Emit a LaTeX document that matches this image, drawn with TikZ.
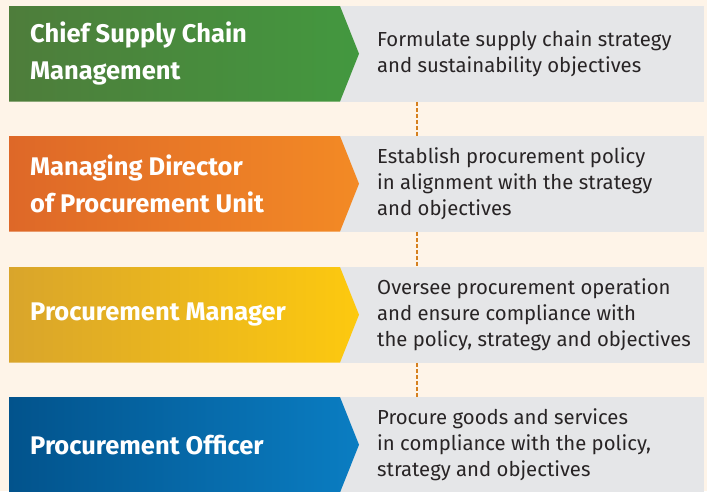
\documentclass[tikz,border=0pt]{standalone}
\usepackage{fontspec}
\setmainfont{Fira Sans}
\usepackage{tikz}
\usetikzlibrary{positioning,calc}
\definecolor{bgcream}{RGB}{254,244,232}
\definecolor{panelgray}{RGB}{229,230,232}
\definecolor{textdark}{RGB}{40,36,37}
\definecolor{linkorange}{RGB}{214,128,30}
\definecolor{greenL}{RGB}{78,125,59}
\definecolor{greenR}{RGB}{67,152,63}
\definecolor{orangeL}{RGB}{222,104,40}
\definecolor{orangeR}{RGB}{243,138,37}
\definecolor{yellowL}{RGB}{217,165,43}
\definecolor{yellowR}{RGB}{253,201,15}
\definecolor{blueL}{RGB}{2,83,140}
\definecolor{blueR}{RGB}{10,125,194}

\begin{document}
\begin{tikzpicture}[x=1pt, y=-1pt,
    panel/.style={rectangle, fill=panelgray, anchor=north west, inner sep=0pt,
                  minimum width=364pt, minimum height=95.5pt},
    role/.style={anchor=west, inner sep=0pt, align=left, text=white,
                 font=\fontsize{25.5}{37}\selectfont\bfseries},
    task/.style={anchor=west, inner sep=0pt, align=left, text=textdark,
                 font=\fontsize{20.3}{26}\selectfont},
    link/.style={draw=linkorange, line width=1.1pt, dash pattern=on 4pt off 2pt}
]

% Background
\fill[bgcream] (0,0) rectangle (707,491);
\useasboundingbox (0,0) rectangle (707,491);

% Grey description panels
\node[panel] (panel1) at (340,6) {};
\node[panel] (panel2) at (340,136) {};
\node[panel] (panel3) at (340,267) {};
\node[panel] (panel4) at (340,397) {};

% Dashed links between panels
\draw[link] ($(panel1.south west)+(77,0)$) -- ($(panel2.north west)+(77,0)$);
\draw[link] ($(panel2.south west)+(77,0)$) -- ($(panel3.north west)+(77,0)$);
\draw[link] ($(panel3.south west)+(77,0)$) -- ($(panel4.north west)+(77,0)$);

% Coloured role arrows
\shade[left color=greenL, right color=greenR]
    (9,6) -- (340,6) -- (359,53.75) -- (340,101.5) -- (9,101.5) -- cycle;
\shade[left color=orangeL, right color=orangeR]
    (9,136) -- (340,136) -- (359,183.75) -- (340,231.5) -- (9,231.5) -- cycle;
\shade[left color=yellowL, right color=yellowR]
    (9,267) -- (340,267) -- (359,314.75) -- (340,362.5) -- (9,362.5) -- cycle;
\shade[left color=blueL, right color=blueR]
    (9,397) -- (340,397) -- (359,444.75) -- (340,492.5) -- (9,492.5) -- cycle;

% Roles
\node[role] (chief) at (30,53.75) {Chief Supply Chain\\Management};
\node[role] (director) at (30,183.75) {Managing Director\\of Procurement Unit};
\node[role] (manager) at (30,314.75) {Procurement Manager};
\node[role] (officer) at (30,444.75) {Procurement Officer};

% Tasks
\node[task] (formulate) at (377,53.75) {Formulate supply chain strategy\\and sustainability objectives};
\node[task] (establish) at (377,183.75) {Establish procurement policy\\in alignment with the strategy\\and objectives};
\node[task] (oversee) at (377,314.75) {Oversee procurement operation\\and ensure compliance with\\the policy, strategy and objectives};
\node[task] (procure) at (377,444.75) {Procure goods and services\\in compliance with the policy,\\strategy and objectives};

\end{tikzpicture}
\end{document}
